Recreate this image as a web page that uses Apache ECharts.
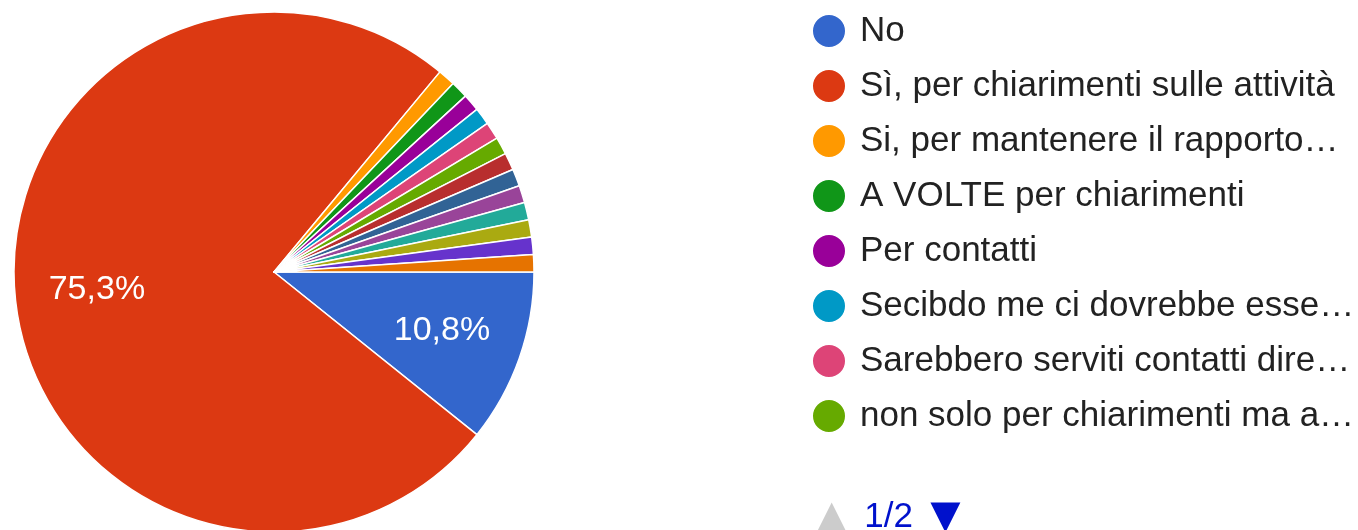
<!DOCTYPE html>
<html>
<head>
<meta charset="utf-8">
<script src="https://cdn.jsdelivr.net/npm/echarts@6/dist/echarts.min.js"></script>
<style>
    html, body { margin: 0; padding: 0; background: #fff; }
    #chart { width: 1358px; height: 530px; }
</style>
</head>
<body>
<div id="chart"></div>
<script>
// risposte (93 in totale)
const categories = [
    'No',
    'Sì, per chiarimenti sulle attività',
    'Si, per mantenere il rapporto con la scuola',
    'A VOLTE per chiarimenti',
    'Per contatti',
    'Secibdo me ci dovrebbe essere più dialogo',
    'Sarebbero serviti contatti diretti con i docenti',
    'non solo per chiarimenti ma anche per confronto',
    'Solo in caso di necessità',
    'Sì, per sapere come procedeva il lavoro',
    'Qualche volta',
    'Sì, ma non è stato possibile',
    'Per avere un riscontro',
    'Sì, con il tutor scolastico',
    'Non saprei'
];
const counts = [10, 70, 1, 1, 1, 1, 1, 1, 1, 1, 1, 1, 1, 1, 1];
const colors = ['#3366cc', '#dc3912', '#ff9900', '#109618', '#990099', '#0099c6', '#dd4477', '#66aa00',
    '#b82e2e', '#316395', '#994499', '#22aa99', '#aaaa11', '#6633cc', '#e67300'];

const myChart = echarts.init(document.getElementById('chart'));
const pieData = categories.map((name, i) => ({ name: name, value: counts[i] }));
const font = '"Liberation Sans", Arial, sans-serif';
const legendFont = '35px ' + font;

let option = {
    color: colors,
    animation: false,
    legend: {
        type: 'scroll',
        orient: 'vertical',
        left: 806,
        top: 8,
        height: 522,
        icon: 'circle',
        itemWidth: 52,
        itemHeight: 34,
        itemGap: 19,
        formatter: (name) => {
            // taglia il testo lungo, senza spazio prima dei puntini
            const t = echarts.format.truncateText(name, 500, legendFont, '…');
            return t.replace(/\s+…$/, '…');
        },
        textStyle: {
            fontFamily: font,
            fontSize: 35,
            lineHeight: 35,
            color: '#222'
        },
        // la freccia "giu'" ha uno spazio vuoto a destra, cosi' il pager resta a sinistra
        pageIcons: {
            vertical: ['path://M0,20L10,0L20,20Z', 'path://M0,0L20,0L10,20Z M279,0L279,0']
        },
        pageIconSize: [418, 30],
        pageIconColor: '#0011cc',
        pageIconInactiveColor: '#cccccc',
        pageButtonItemGap: 2,
        pageButtonGap: 60,
        pageFormatter: '{current}/{total}',
        pageTextStyle: {
            color: '#0011cc',
            fontFamily: font,
            fontSize: 35
        }
    },
    series: [{
        type: 'pie',
        center: [274, 272],
        radius: 260,
        startAngle: 0,
        clockwise: true,
        label: { show: false },
        labelLine: { show: false },
        itemStyle: { borderColor: '#fff', borderWidth: 1.5 },
        emphasis: { scale: false },
        data: pieData
    }, {
        // solo etichette, piu' verso l'esterno
        type: 'pie',
        center: [274, 272],
        radius: [90, 260],
        startAngle: 0,
        clockwise: true,
        silent: true,
        itemStyle: { color: 'rgba(0,0,0,0)', borderWidth: 0 },
        labelLine: { show: false },
        label: {
            show: true,
            position: 'inside',
            color: '#fff',
            fontFamily: font,
            fontSize: 34,
            formatter: (p) => p.percent > 5 ? p.percent.toFixed(1).replace('.', ',') + '%' : ''
        },
        data: pieData
    }]
};
myChart.setOption(option);
</script>
</body>
</html>
